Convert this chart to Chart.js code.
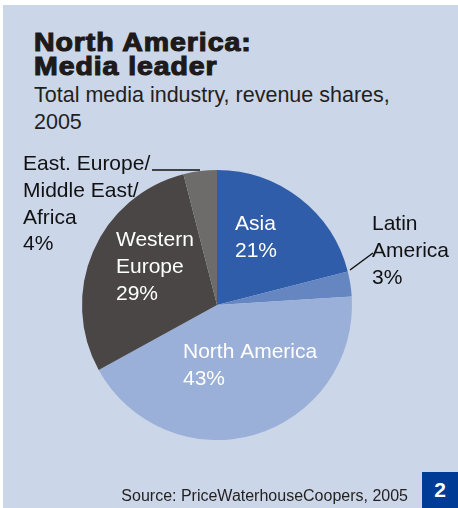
<!DOCTYPE html>
<html>
<head>
<meta charset="utf-8">
<script src="https://cdn.jsdelivr.net/npm/chart.js@4"></script>
<style>
    html, body { margin: 0; padding: 0; background: #ffffff; }
    body { width: 458px; height: 508px; position: relative; overflow: hidden; font-family: "Liberation Sans", Arial, sans-serif; }
    #panel { position: absolute; left: 3px; top: 5px; right: 0; bottom: 0; background: #cbd6e8; }
    #chart { position: absolute; left: 0; top: 0; }
    .title { position: absolute; left: 34px; top: 30px; font-size: 25px; line-height: 24px; font-weight: bold; color: #1e1a19; letter-spacing: 0.8px; -webkit-text-stroke: 1.1px #1e1a19; white-space: nowrap; transform: scaleX(1.14); transform-origin: left top; }
    .subtitle { position: absolute; left: 34px; top: 82px; font-size: 21.5px; line-height: 27px; color: #231f1e; white-space: nowrap; }
    .source { position: absolute; right: 50px; top: 486px; font-size: 16px; line-height: 20px; color: #231f1e; white-space: nowrap; }
    .badge { position: absolute; left: 422px; top: 472px; width: 36px; height: 36px; background: #003b95; color: #ffffff; font-weight: bold; font-size: 21px; line-height: 36px; text-align: center; }
</style>
</head>
<body>
<div id="panel"></div>
<div class="title">North America:<br>Media leader</div>
<div class="subtitle">Total media industry, revenue shares,<br>2005</div>
<canvas id="chart" width="458" height="508"></canvas>
<div class="source">Source: PriceWaterhouseCoopers, 2005</div>
<div class="badge">2</div>
<script>
// Revenue shares 2005, clockwise from 12 o'clock
const regions = ['Asia', 'Latin America', 'North America', 'Western Europe', 'East. Europe/Middle East/Africa'];
const shares = [21, 3, 43, 29, 4];
const sliceColors = ['#2f5da9', '#6686c2', '#9ab0d8', '#4a4645', '#6e6c6a'];

// label text lines per slice
const labelLines = [
    ['Asia', '21%'],
    ['Latin', 'America', '3%'],
    ['North America', '43%'],
    ['Western', 'Europe', '29%'],
    ['East. Europe/', 'Middle East/', 'Africa', '4%']
];

// label placement relative to pie centre (px), colour, and leader lines
const labelStyle = [
    { dx: 18, dy: -75, color: '#ffffff' },
    { dx: 155, dy: -75, color: '#111111', leader: [133, -35, 156, -52] },
    { dx: -34, dy: 53, color: '#ffffff' },
    { dx: -101, dy: -59, color: '#ffffff' },
    { dx: -194, dy: -135, color: '#111111', leader: [-65, -135, -17, -135] }
];

const sliceLabels = {
    id: 'sliceLabels',
    afterDatasetsDraw(chart) {
        const ctx = chart.ctx;
        const arcs = chart.getDatasetMeta(0).data;
        const cx = arcs[0].x;
        const cy = arcs[0].y;
        ctx.save();
        ctx.font = '21px "Liberation Sans", Arial, sans-serif';
        ctx.textBaseline = 'alphabetic';
        ctx.textAlign = 'left';
        labelLines.forEach(function(lines, i) {
            const s = labelStyle[i];
            ctx.fillStyle = s.color;
            lines.forEach(function(line, j) {
                ctx.fillText(line, cx + s.dx, cy + s.dy + j * 26.8);
            });
            if (s.leader) {
                ctx.strokeStyle = '#111111';
                ctx.lineWidth = 1.5;
                ctx.beginPath();
                ctx.moveTo(cx + s.leader[0], cy + s.leader[1]);
                ctx.lineTo(cx + s.leader[2], cy + s.leader[3]);
                ctx.stroke();
            }
        });
        ctx.restore();
    }
};

new Chart(document.getElementById('chart').getContext('2d'), {
    type: 'pie',
    data: {
        labels: regions,
        datasets: [{
            data: shares,
            backgroundColor: sliceColors,
            borderWidth: 0
        }]
    },
    options: {
        responsive: false,
        animation: false,
        layout: {
            padding: { left: 82, right: 106, top: 170, bottom: 68 }
        },
        plugins: {
            legend: { display: false },
            tooltip: { enabled: false }
        }
    },
    plugins: [sliceLabels]
});
</script>
</body>
</html>
